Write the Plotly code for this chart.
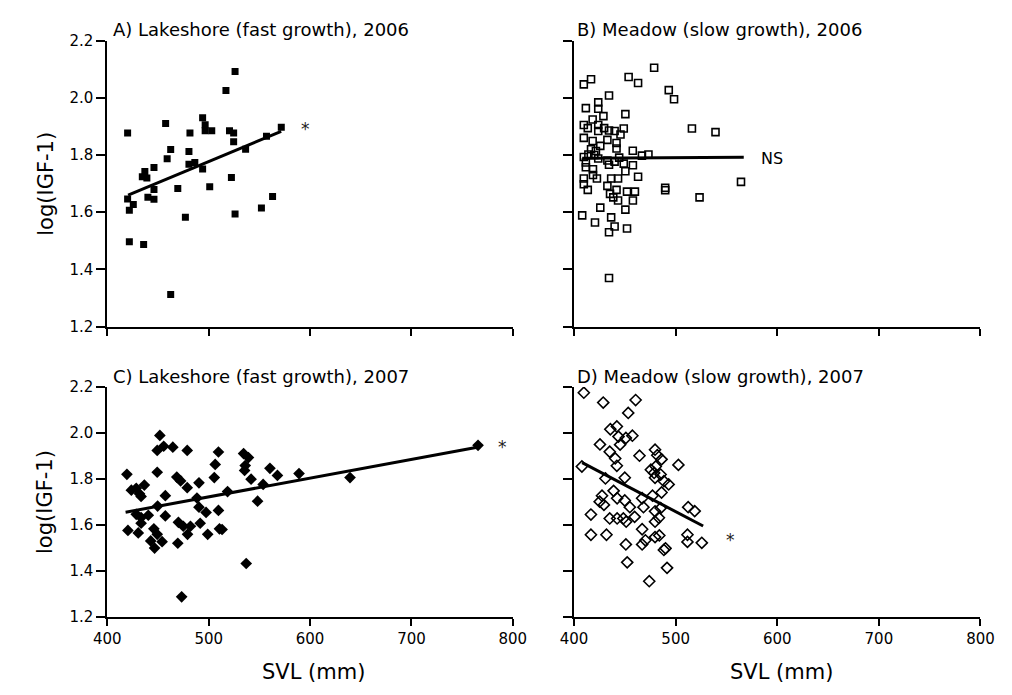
import plotly.graph_objects as go

# ---------------- data ----------------
A_svl = [420, 457.5, 481.5, 494, 496.5, 496.5, 503, 526, 517, 520.5,
         524.6, 571.6, 557, 524.6, 536.4, 462.5, 459, 480.5, 480.5, 486.3,
         494, 446, 437, 434.5, 439, 446, 440, 446, 469.5, 501,
         420, 425.6, 421.7, 522.4, 563, 552, 526, 477, 421.7, 435.8, 462.5]
A_igf = [1.877, 1.910, 1.877, 1.930, 1.906, 1.885, 1.885, 2.092, 2.026, 1.885,
         1.877, 1.897, 1.866, 1.846, 1.820, 1.819, 1.787, 1.812, 1.768, 1.774,
         1.751, 1.756, 1.742, 1.724, 1.720, 1.679, 1.652, 1.645, 1.683, 1.689,
         1.646, 1.627, 1.607, 1.721, 1.655, 1.615, 1.594, 1.582, 1.497, 1.487, 1.312]

B_svl = [478.8, 409.6, 416.7, 453.7, 463, 434.4, 493.2, 498.4, 411.6, 423.8,
         423.8, 428.9, 450.5, 418.3, 409.6, 413.5, 423.8, 429.6, 423.8, 434.4,
         439.9, 448.9, 445.7, 516, 539.2, 409.6, 418.3, 432.8, 441.8, 425.8,
         416.7, 441.8, 421.5, 457.8, 466.8, 473.2, 409.6, 414.1, 419.9, 423.8,
         444.4, 432.8, 439.9, 448.9, 434.4, 457.9, 411.6, 411.6, 418.6, 450.5,
         418.6, 422.5, 409.6, 463, 436.5, 443.3, 409.6, 413.5, 432.8, 435.4,
         441.8, 452.1, 459.9, 438.6, 443.3, 457.9, 489.7, 489.7, 564.3, 523.5,
         425.8, 450.5, 408, 436.5, 420.6, 439.9, 434.4, 452.1, 434.4]
B_igf = [2.105, 2.047, 2.065, 2.073, 2.052, 2.008, 2.027, 1.995, 1.964, 1.984,
         1.962, 1.936, 1.943, 1.924, 1.905, 1.894, 1.905, 1.894, 1.884, 1.886,
         1.884, 1.893, 1.872, 1.893, 1.880, 1.860, 1.849, 1.853, 1.842, 1.832,
         1.820, 1.823, 1.814, 1.815, 1.798, 1.802, 1.793, 1.802, 1.800, 1.788,
         1.791, 1.781, 1.777, 1.770, 1.766, 1.764, 1.774, 1.757, 1.750, 1.743,
         1.730, 1.718, 1.718, 1.724, 1.718, 1.718, 1.698, 1.678, 1.692, 1.664,
         1.678, 1.672, 1.672, 1.652, 1.641, 1.641, 1.685, 1.677, 1.706, 1.652,
         1.616, 1.609, 1.589, 1.582, 1.564, 1.550, 1.530, 1.543, 1.370]

C_svl = [419.3, 451.8, 449.2, 455.6, 464.6, 478.8, 509.6, 534.4, 539.2, 536,
         535.4, 506.4, 505.5, 449.2, 468.5, 472.3, 478.8, 490.4, 541.8, 553.7,
         423.7, 428.5, 436.5, 431.7, 433.3, 457.2, 518.6, 548.2, 449.6, 488.4,
         490.4, 497.4, 509.6, 428.5, 433.3, 440.4, 457.2, 433.3, 470.1, 474.9,
         482, 491.6, 420.3, 430.5, 445.9, 449.2, 479.1, 499, 510.6, 513.2,
         442.8, 454, 446.6, 469.5, 537, 473.3, 560.4, 567.8, 589.1, 639.4, 765.7]
C_igf = [1.820, 1.989, 1.924, 1.942, 1.938, 1.924, 1.917, 1.910, 1.893, 1.858,
         1.837, 1.863, 1.806, 1.829, 1.808, 1.791, 1.762, 1.783, 1.799, 1.776,
         1.751, 1.759, 1.773, 1.735, 1.724, 1.727, 1.745, 1.703, 1.682, 1.717,
         1.677, 1.654, 1.663, 1.646, 1.632, 1.642, 1.639, 1.607, 1.611, 1.594,
         1.594, 1.607, 1.576, 1.565, 1.583, 1.559, 1.559, 1.559, 1.583, 1.580,
         1.530, 1.527, 1.499, 1.520, 1.432, 1.287, 1.846, 1.815, 1.823, 1.806, 1.946]

D_svl = [409.6, 428.7, 460.6, 453.3, 435.7, 442.1, 443.7, 451, 457.4, 445.3,
         425.5, 435.1, 440.5, 464.4, 479.7, 481.9, 486.1, 442.1, 407.7, 502.7,
         475.6, 480.4, 478.8, 485.2, 488.4, 493.1, 430.9, 449.9, 479.7, 486.1,
         438.9, 427.5, 442.4, 467, 477.2, 449.9, 429.4, 425.2, 454.9, 468.3,
         479.7, 485.2, 512.3, 518.7, 416.6, 435.1, 442.4, 448.5, 459.6, 451.3,
         479.7, 483.5, 416.6, 431.9, 467, 470.2, 467, 479.7, 483.9, 451,
         511.6, 511.6, 525.7, 488.4, 490, 452.3, 491.5, 474]
D_igf = [2.175, 2.132, 2.143, 2.087, 2.016, 2.028, 1.984, 1.978, 1.988, 1.949,
         1.950, 1.918, 1.889, 1.901, 1.927, 1.903, 1.885, 1.857, 1.854, 1.861,
         1.840, 1.854, 1.826, 1.819, 1.790, 1.776, 1.802, 1.805, 1.805, 1.741,
         1.748, 1.727, 1.716, 1.716, 1.727, 1.706, 1.687, 1.701, 1.677, 1.677,
         1.659, 1.673, 1.677, 1.660, 1.645, 1.628, 1.628, 1.628, 1.635, 1.614,
         1.614, 1.631, 1.557, 1.557, 1.581, 1.533, 1.515, 1.547, 1.554, 1.515,
         1.557, 1.526, 1.522, 1.491, 1.498, 1.437, 1.413, 1.355]

# regression line end points
A_fit_svl, A_fit_igf = [420.5, 571.5], [1.660, 1.883]
B_fit_svl, B_fit_igf = [408, 567], [1.789, 1.792]
C_fit_svl, C_fit_igf = [418, 765], [1.655, 1.938]
D_fit_svl, D_fit_igf = [408, 527], [1.871, 1.595]

panel_titles = ["A) Lakeshore (fast growth), 2006", "B) Meadow (slow growth), 2006",
                "C) Lakeshore (fast growth), 2007", "D) Meadow (slow growth), 2007"]
sig_labels = ["*", "NS", "*", "*"]
sig_pos_svl = [595.6, 581.8, 790, 554.4]
sig_pos_igf = [1.905, 1.789, 1.958, 1.553]

x_ticks = [400, 500, 600, 700, 800]
y_ticks = [1.2, 1.4, 1.6, 1.8, 2.0, 2.2]

# ---------------- figure ----------------
W, H = 1012, 695
FONT = "DejaVu Sans"
left_dom = [96 / W, 513 / W]
right_dom = [576 / W, 994 / W]
top_dom = [1 - 326 / H, 1 - 32.5 / H]
bot_dom = [1 - 624 / H, 1 - 388 / H]

fig = go.Figure()

panels = [
    (A_svl, A_igf, A_fit_svl, A_fit_igf, "square", "black", 7, "x", "y"),
    (B_svl, B_igf, B_fit_svl, B_fit_igf, "square-open", "black", 7, "x2", "y2"),
    (C_svl, C_igf, C_fit_svl, C_fit_igf, "diamond", "black", 9, "x3", "y3"),
    (D_svl, D_igf, D_fit_svl, D_fit_igf, "diamond-open", "black", 8.5, "x4", "y4"),
]
for sx, sy, fx, fy, sym, col, sz, xa, ya in panels:
    fig.add_trace(go.Scatter(
        x=sx, y=sy, mode="markers", xaxis=xa, yaxis=ya, showlegend=False,
        marker=dict(symbol=sym, size=sz, color=col,
                    line=dict(color="black", width=1.6 if "open" in sym else 0))))
    fig.add_trace(go.Scatter(
        x=fx, y=fy, mode="lines", xaxis=xa, yaxis=ya, showlegend=False,
        line=dict(color="black", width=3)))

axis_common = dict(showline=True, linecolor="black", linewidth=2, showgrid=False,
                   zeroline=False, ticks="outside", tickcolor="black", tickwidth=2,
                   tickfont=dict(family=FONT, size=15, color="black"))

def xax(dom, anchor, labels):
    return dict(axis_common, domain=dom, anchor=anchor, range=[400, 800],
                tickvals=x_ticks, ticklen=7, showticklabels=labels)

def yax(dom, anchor, labels):
    return dict(axis_common, domain=dom, anchor=anchor, range=[1.2, 2.2],
                tickvals=y_ticks, tickformat=".1f", ticklen=9, showticklabels=labels)

fig.update_layout(
    width=W, height=H, margin=dict(l=0, r=0, t=0, b=0),
    paper_bgcolor="white", plot_bgcolor="white",
    font=dict(family=FONT, color="black"),
    xaxis=xax(left_dom, "y", False), yaxis=yax(top_dom, "x", True),
    xaxis2=xax(right_dom, "y2", False), yaxis2=yax(top_dom, "x2", False),
    xaxis3=xax(left_dom, "y3", True), yaxis3=yax(bot_dom, "x3", True),
    xaxis4=xax(right_dom, "y4", True), yaxis4=yax(bot_dom, "x4", False),
)

# panel titles
title_pos = [(100, 21), (577, 21), (100, 377), (577, 377)]
for t, (px, py) in zip(panel_titles, title_pos):
    fig.add_annotation(text=t, xref="paper", yref="paper", x=px / W, y=1 - py / H,
                       xanchor="left", yanchor="middle", showarrow=False,
                       font=dict(family=FONT, size=18, color="black"))

# significance labels
for lab, sx, sy, xa, ya in zip(sig_labels, sig_pos_svl, sig_pos_igf,
                               ["x", "x2", "x3", "x4"], ["y", "y2", "y3", "y4"]):
    fig.add_annotation(text=lab, xref=xa, yref=ya, x=sx, y=sy,
                       xanchor="left" if lab == "NS" else "center", yanchor="middle",
                       yshift=-4 if lab == "*" else 0, showarrow=False,
                       font=dict(family=FONT, size=17 if lab == "*" else 16,
                                 color="#222" if lab == "*" else "black"))

# axis titles
for cx in [(96 + 513) / 2 + 4, (576 + 994) / 2 + 4]:
    fig.add_annotation(text="SVL (mm)", xref="paper", yref="paper", x=cx / W, y=1 - 681 / H,
                       xanchor="center", yanchor="middle", showarrow=False,
                       font=dict(family=FONT, size=21, color="black"))
for cy in [(32.5 + 326) / 2, (388 + 624) / 2]:
    fig.add_annotation(text="log(IGF-1)", xref="paper", yref="paper", x=32 / W, y=1 - cy / H,
                       xanchor="center", yanchor="middle", textangle=-90, showarrow=False,
                       font=dict(family=FONT, size=21, color="black"))

fig.write_html("out.html")
